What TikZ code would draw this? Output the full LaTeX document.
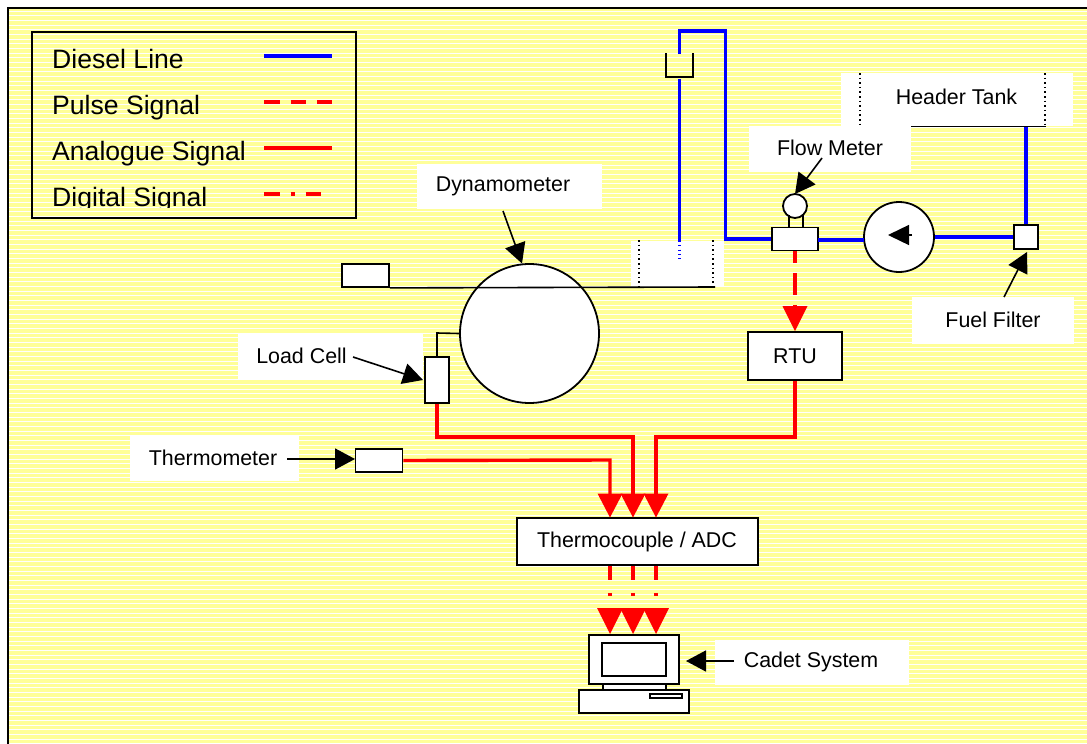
\documentclass[tikz,border=0pt]{standalone}
\usepackage{fontspec}
\setmainfont{Liberation Sans}
\usetikzlibrary{arrows.meta,calc}
\definecolor{paper}{HTML}{FFFF99}
\definecolor{sigred}{HTML}{FF0000}
\definecolor{dieselblue}{HTML}{0000FF}
\newcommand{\bodyfont}{\fontsize{21.4}{25}\selectfont}
\tikzset{
  x=1pt,y=-1pt,
  blackbox/.style={draw=black,line width=1.8pt,fill=white,inner sep=0pt,text=black,font=\bodyfont},
  round shape/.style={circle,draw=black,line width=1.8pt,fill=white,inner sep=0pt},
  labelbox/.style={fill=white,inner sep=0pt},
  labeltext/.style={inner sep=0pt,text=black,font=\bodyfont},
  legendtext/.style={anchor=base west,inner sep=0pt,text=black,font=\fontsize{26.6}{30}\selectfont},
  diesel/.style={draw=dieselblue,line width=3.6pt,line join=miter},
  analogue/.style={draw=sigred,line width=3.4pt,line join=miter},
  thin wire/.style={draw=black,line width=1.6pt},
  tank wall/.style={draw=black,line width=1.4pt,dash pattern=on 1.6pt off 3pt},
  blackhead/.style={draw=black,line width=1.6pt,-{Triangle[length=20pt,width=21pt,fill=black]}},
}
\begin{document}
\begin{tikzpicture}
\useasboundingbox (0,0) rectangle (1087,744);
% paper
\fill[paper] (8,8) rectangle (1087,744);
\begin{scope}
\clip (8,8) rectangle (1087,744);
\foreach \k in {0,...,158} {
  \fill[white] (8,{10.5+4.667*\k}) rectangle (1087,{11.5+4.667*\k});
}
\end{scope}
\draw[black,line width=1.8pt] (1087,8) -- (8,8) -- (8,744);

% legend
\node[draw=black,line width=1.8pt,minimum width=324pt,minimum height=186pt,inner sep=0pt] (legend) at (194,125) {};
\begin{scope}
\clip (32,32) rectangle (356,207);
\node[legendtext] (t1) at (52,68) {Diesel Line};
\node[legendtext] (t2) at (52,114) {Pulse Signal};
\node[legendtext] (t3) at (52,160) {Analogue Signal};
\node[legendtext] (t4) at (52,206) {Digital Signal};
\end{scope}
\coordinate (l1a) at (264,56); \coordinate (l1b) at (332,56);
\coordinate (l2a) at (264,102); \coordinate (l2b) at (332,102);
\coordinate (l3a) at (264,148); \coordinate (l3b) at (332,148);
\coordinate (l4a) at (264,194); \coordinate (l4b) at (321,194);
\draw[diesel] (l1a) -- (l1b);
\draw[draw=sigred,line width=3.4pt,dash pattern=on 15.5pt off 11pt] (l2a) -- (l2b);
\draw[analogue] (l3a) -- (l3b);
\draw[draw=sigred,line width=3.4pt,dash pattern=on 15.5pt off 11pt on 4pt off 11pt] (l4a) -- (l4b);

% white label and tank panels
\node[labelbox,minimum width=232pt,minimum height=53pt] (headerpanel) at (957,99.5) {};
\node[labelbox,minimum width=162pt,minimum height=46pt] (flowlabel) at (830,149) {};
\node[labelbox,minimum width=185pt,minimum height=45pt] (dynolabel) at (509.5,186.5) {};
\node[labelbox,minimum width=93pt,minimum height=46pt] (sump) at (677.5,264) {};
\node[labelbox,minimum width=162pt,minimum height=47pt] (filterlabel) at (993,320.5) {};
\node[labelbox,minimum width=185pt,minimum height=45pt] (loadlabel) at (330.5,356.5) {};
\node[labelbox,minimum width=169pt,minimum height=45pt] (thermolabel) at (214.5,458.5) {};
\node[labelbox,minimum width=194pt,minimum height=45pt] (cadetlabel) at (812,662.5) {};
\node[labeltext] (headertext) at (956.5,97) {Header Tank};
\node[labeltext] (flowtext) at (830,147.5) {Flow Meter};
\node[labeltext] (dynotext) at (503,186.5) {Dynamometer};
\node[labeltext] (filtertext) at (993,319.5) {Fuel Filter};
\node[labeltext] (loadtext) at (301.5,355.5) {Load Cell};
\node[labeltext] (thermotext) at (213,457.5) {Thermometer};
\node[labeltext] (cadettext) at (811,662) {Cadet System};

% tank walls
\coordinate (htl) at (860,73); \coordinate (htlb) at (860,125);
\coordinate (htr) at (1045,73); \coordinate (htrb) at (1045,126);
\coordinate (htbl) at (911,126.5); \coordinate (htbr) at (1046,126.5);
\draw[tank wall] (htl) -- (htlb);
\draw[tank wall] (htr) -- (htrb);
\draw[thin wire] (htbl) -- (htbr);
\coordinate (sl) at (639,240); \coordinate (slb) at (639,287);
\coordinate (sr) at (713,240); \coordinate (srb) at (713,287);
\draw[tank wall] (sl) -- (slb);
\draw[tank wall] (sr) -- (srb);

% main shapes
\node[round shape,minimum size=139pt] (dyno) at (529.5,333.5) {};
\node[blackbox,minimum width=47pt,minimum height=23pt] (drive) at (365.5,275.5) {};
\coordinate (shaftend) at (715,287);
\draw[thin wire] (drive.south east) -- (shaftend);
\node[blackbox,minimum width=24pt,minimum height=46pt] (loadcell) at (437,380) {};
\node[blackbox,minimum width=47pt,minimum height=23pt] (thermometer) at (379,460.5) {};
\node[blackbox,minimum width=46pt,minimum height=23pt] (meterbody) at (795,239) {};
\node[round shape,minimum size=24pt] (meterdial) at (795,206) {};
\draw[thin wire] ([xshift=-6pt]meterbody.north) -- ([xshift=-6pt]meterbody.north |- meterdial.south west);
\draw[thin wire] ([xshift=8pt]meterbody.north) -- ([xshift=8pt]meterbody.north |- meterdial.south east);
\node[round shape,minimum size=70pt] (pump) at (899,237) {};
\node[blackbox,minimum width=24pt,minimum height=24pt] (filter) at (1026,237) {};
\node[blackbox,minimum width=94pt,minimum height=48pt] (rtu) at (795,356) {};
\node[labeltext] (rtutext) at (795,356.5) {RTU};
\node[blackbox,minimum width=241pt,minimum height=47pt] (adc) at (637.5,541.5) {};
\node[labeltext] (adctext) at (637,541.5) {Thermocouple / ADC};

% pump direction mark
\coordinate (pumpin) at (912,235);
\coordinate (pumptip) at (888,235);
\draw[draw=black,line width=1.4pt,-{Triangle[length=21pt,width=20pt,fill=black]}] (pumpin) -- (pumptip);

% funnel
\coordinate (fa) at (666,53); \coordinate (fb) at (666,77); \coordinate (fc) at (693,77); \coordinate (fd) at (693,53);
\draw[thin wire] (fa) -- (fb) -- (fc) -- (fd);

% diesel lines
\coordinate (d1) at (679.5,54); \coordinate (d2) at (679.5,31); \coordinate (d3) at (725.5,31); \coordinate (d4) at (725.5,239);
\coordinate (d5) at (679.5,79); \coordinate (d6) at (679.5,241); \coordinate (d7) at (679.5,262);
\coordinate (d8) at (818,240); \coordinate (d9) at (864,240);
\draw[diesel] (d1) -- (d2) -- (d3) -- (d4) -- (meterbody.west |- d4);
\draw[diesel] (d5) -- (d6);
\draw[draw=dieselblue,line width=3.6pt,dash pattern=on 1pt off 3.3pt] (d6) -- (d7);
\draw[diesel] (d8) -- (d9);
\draw[diesel] (pump.east) -- (filter.west);
\draw[diesel] (filter.north) -- (filter.north |- htbr);

% connections to load cell
\coordinate (lc1) at (437,333);
\draw[thin wire] (loadcell.north) -- (lc1) -- (dyno.west);

% black leaders
\coordinate (lflow) at (822,158);
\coordinate (ldyno) at (503,211);
\coordinate (lload) at (353,357);
\coordinate (lthermo) at (287,459);
\coordinate (lfilter) at (1004,297);
\coordinate (lcadet) at (734,661);
\coordinate (tipflow) at (795,194);
\coordinate (tipdyno) at (522,263.5);
\coordinate (tipload) at (423,380);
\coordinate (tipthermo) at (355,459);
\coordinate (tipfilter) at (1027,252);
\coordinate (tipcadet) at (686,661);
\draw[blackhead] (lflow) -- (tipflow);
\draw[blackhead] (ldyno) -- (tipdyno);
\draw[blackhead] (lload) -- (tipload);
\draw[blackhead] (lthermo) -- (tipthermo);
\draw[blackhead] (lfilter) -- (tipfilter);
\draw[blackhead] (lcadet) -- (tipcadet);

% signal lines
\coordinate (ar1) at (610,517.5); \coordinate (ar2) at (633,517.5); \coordinate (ar3) at (656,517.5);
\coordinate (dg1) at (610,634); \coordinate (dg2) at (633,634); \coordinate (dg3) at (656,634);
\draw[draw=sigred,line width=3.4pt,dash pattern=on 22pt off 10pt,dash phase=10pt] (meterbody.south) -- (rtu.north);
\fill[sigred] (rtu.north) -- ++(-12.5,-25) -- ++(25,0) -- cycle;
\coordinate (c1) at (437,437); \coordinate (c2) at (656,437); \coordinate (c3) at (633,437); \coordinate (c4) at (610,460);
\draw[analogue] (loadcell.south) -- (c1) -- (c3) -- (ar2 |- 0,500);
\draw[analogue] (rtu.south) |- (c2) -- (ar3 |- 0,500);
\draw[analogue] (thermometer.east) -- (c4) -- (ar1 |- 0,500);
\foreach \a in {ar1,ar2,ar3} {
  \fill[sigred] (\a) -- ++(-12.5,-24) -- ++(25,0) -- cycle;
}
\foreach \a in {dg1,dg2,dg3} {
  \draw[draw=sigred,line width=3.4pt,dash pattern=on 14.5pt off 12.5pt on 3.5pt off 12.5pt on 15pt off 0pt] (\a |- adc.south) -- (\a |- 0,610);
  \fill[sigred] (\a) -- ++(-13,-26) -- ++(26,0) -- cycle;
}

% computer
\node[blackbox,minimum width=63pt,minimum height=6pt] (stem) at (634.5,687) {};
\node[blackbox,minimum width=90pt,minimum height=49pt] (monitor) at (634,659.5) {};
\node[blackbox,minimum width=64pt,minimum height=33pt] (screen) at (634,659.5) {};
\node[blackbox,minimum width=110pt,minimum height=23pt] (base) at (634,701.5) {};
\node[blackbox,minimum width=32pt,minimum height=4pt] (slot) at (666,696) {};
\end{tikzpicture}
\end{document}
